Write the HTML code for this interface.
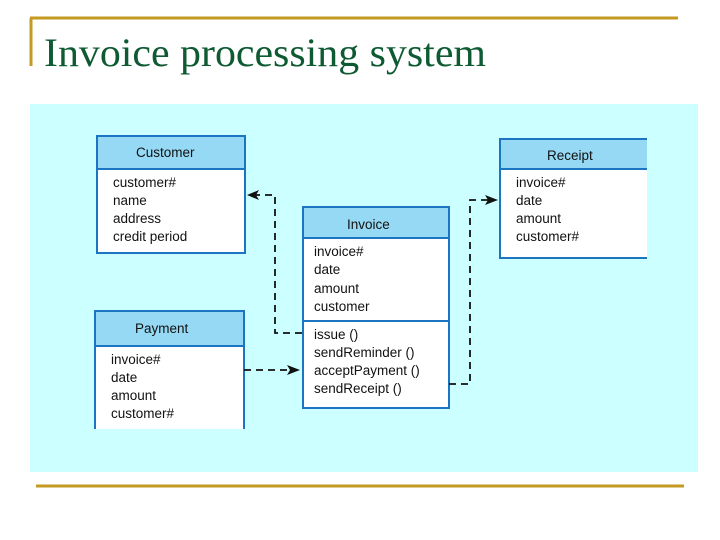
<!DOCTYPE html>
<html><head><style>
body{margin:0;width:720px;height:540px;background:#fff;overflow:hidden;position:relative}
svg{position:absolute;left:0;top:0}
.t{font-family:"Liberation Sans",sans-serif;font-size:13.5px;fill:#111}
</style></head><body>
<svg width="720" height="540">
<rect x="30" y="104" width="668" height="368" fill="#ccffff"/>
<line x1="30" y1="18" x2="678" y2="18" stroke="#c49a22" stroke-width="3"/>
<line x1="31" y1="18" x2="31" y2="66" stroke="#c49a22" stroke-width="3"/>
<line x1="36" y1="486" x2="684" y2="486" stroke="#c49a22" stroke-width="3"/>
<text x="44" y="66" font-family="Liberation Serif,serif" font-size="40" fill="#0e5a32" textLength="442" lengthAdjust="spacingAndGlyphs">Invoice processing system</text>
<g stroke="#1b75c0" stroke-width="2">
<rect x="97" y="136" width="148" height="117" fill="#fff"/><rect x="97" y="136" width="148" height="33" fill="#95d9f5"/>
<rect x="95" y="311" width="149" height="125" fill="#fff"/><rect x="95" y="311" width="149" height="35" fill="#95d9f5"/>
<rect x="303" y="207" width="146" height="201" fill="#fff"/><rect x="303" y="207" width="146" height="31" fill="#95d9f5"/>
<line x1="303" y1="321" x2="449" y2="321"/>
<rect x="500" y="139" width="150" height="119" fill="#fff"/><rect x="500" y="139" width="150" height="30" fill="#95d9f5"/>
</g>
<rect x="647" y="136" width="51" height="130" fill="#ccffff"/>
<rect x="90" y="429" width="160" height="10" fill="#ccffff"/>
<g class="t">
<text x="136" y="157">Customer</text>
<text x="113" y="187">customer#</text><text x="113" y="205">name</text><text x="113" y="223">address</text><text x="113" y="241">credit period</text>
<text x="135" y="333">Payment</text>
<text x="111" y="364">invoice#</text><text x="111" y="382">date</text><text x="111" y="400">amount</text><text x="111" y="418">customer#</text>
<text x="347" y="229">Invoice</text>
<text x="314" y="256">invoice#</text><text x="314" y="274">date</text><text x="314" y="293">amount</text><text x="314" y="311">customer</text>
<text x="314" y="339">issue ()</text><text x="314" y="357">sendReminder ()</text><text x="314" y="375">acceptPayment ()</text><text x="314" y="393">sendReceipt ()</text>
<text x="547" y="160">Receipt</text>
<text x="516" y="187">invoice#</text><text x="516" y="205">date</text><text x="516" y="223">amount</text><text x="516" y="241">customer#</text>
</g>
<g stroke="#111" stroke-width="1.8" fill="none" stroke-dasharray="7,5">
<polyline points="302,333 275,333 275,195 256,195"/>
<line x1="244" y1="370" x2="290" y2="370"/>
<polyline points="449,384 470,384 470,200 488,200"/>
</g>
<g fill="#111">
<polygon points="247,195 259,190 256,195 259,200"/>
<polygon points="300,370 287,365 290,370 287,375"/>
<polygon points="498,200 485,195 488,200 485,205"/>
</g>
</svg>
</body></html>
